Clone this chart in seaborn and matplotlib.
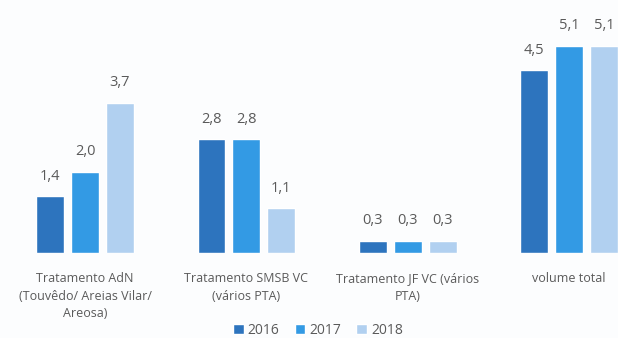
import matplotlib
matplotlib.use("Agg")
import matplotlib.pyplot as plt
import seaborn as sns
import pandas as pd

categorias = [
    "Tratamento AdN\n(Touvêdo/ Areias Vilar/\nAreosa)",
    "Tratamento SMSB VC\n(vários PTA)",
    "Tratamento JF VC (vários\nPTA)",
    "volume total",
]
anos = ["2016", "2017", "2018"]
v2016 = [1.4, 2.8, 0.3, 4.5]
v2017 = [2.0, 2.8, 0.3, 5.1]
v2018 = [3.7, 1.1, 0.3, 5.1]
cores = ["#2d74be", "#339ae4", "#b1d0f0"]

linhas = []
for ano, valores in zip(anos, [v2016, v2017, v2018]):
    for cat, v in zip(categorias, valores):
        linhas.append({"categoria": cat, "ano": ano, "valor": v})
df = pd.DataFrame(linhas)

sns.set_theme(style="white")
plt.rcParams["font.family"] = ["Open Sans", "DejaVu Sans"]

fig = plt.figure(figsize=(6.18, 3.38), dpi=100)
fig.patch.set_facecolor("#fcfdfe")
ax = fig.add_axes([0.0071, 0.2515, 1.0445, 0.721])
ax.set_facecolor("none")

sns.barplot(data=df, x="categoria", y="valor", hue="ano", order=categorias,
            hue_order=anos, palette=cores, width=0.65, gap=0.2,
            saturation=1, ax=ax, legend=True)

for cont in ax.containers:
    ax.bar_label(cont, labels=[f"{b.get_height():.1f}".replace(".", ",") for b in cont],
                 padding=9, fontsize=10.5, color="#5a5a5a")

ax.set_ylim(0, 6)
ax.set_xlim(-0.5, 3.5)
ax.set_xlabel("")
ax.set_ylabel("")
ax.set_yticks([])
for s in ax.spines.values():
    s.set_visible(False)
ax.tick_params(axis="x", length=0, pad=14, labelsize=9, labelcolor="#5a5a5a")
for lbl in ax.get_xticklabels():
    lbl.set_linespacing(1.45)
    lbl.set_verticalalignment("top")

leg = ax.legend(loc="center", bbox_to_anchor=(318 / 618, 8 / 338), bbox_transform=fig.transFigure,
                ncol=3, frameon=False, fontsize=10, handlelength=0.75, handleheight=0.75,
                handletextpad=0.3, columnspacing=1.1)
for t in leg.get_texts():
    t.set_color("#5a5a5a")

fig.savefig("out.png", dpi=100, facecolor=fig.get_facecolor())
